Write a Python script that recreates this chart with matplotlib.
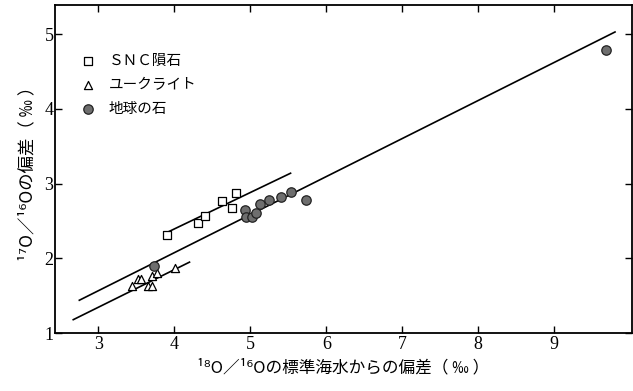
import matplotlib
matplotlib.use("Agg")
import matplotlib.pyplot as plt
import numpy as np

plt.rcParams['font.family'] = ['Noto Sans CJK JP', 'DejaVu Sans']

# SNC meteorites
snc_x = [3.91, 4.31, 4.41, 4.63, 4.76, 4.81]
snc_y = [2.31, 2.48, 2.57, 2.77, 2.68, 2.87]
# Eucrites
euc_x = [3.44, 3.52, 3.56, 3.65, 3.70, 3.71, 3.77, 4.01]
euc_y = [1.63, 1.72, 1.72, 1.63, 1.63, 1.76, 1.80, 1.87]
# Terrestrial rocks
earth_x = [3.73, 4.93, 4.95, 5.02, 5.07, 5.13, 5.25, 5.41, 5.54, 5.73, 9.68]
earth_y = [1.90, 2.65, 2.55, 2.56, 2.61, 2.73, 2.78, 2.82, 2.89, 2.78, 4.79]

# Fractionation lines (end points)
earth_line_x = [2.75, 9.80]
earth_line_y = [1.44, 5.03]
snc_line_x = [3.93, 5.53]
snc_line_y = [2.36, 3.14]
euc_line_x = [2.67, 4.20]
euc_line_y = [1.18, 1.95]

xticks = [3, 4, 5, 6, 7, 8, 9]
yticks = [1, 2, 3, 4, 5]

fig = plt.figure(figsize=(6.33, 3.91), dpi=100)
ax = fig.add_axes([0.0869, 0.148, 0.9111, 0.839])

ax.plot(earth_line_x, earth_line_y, color='black', lw=1.2)
ax.plot(snc_line_x, snc_line_y, color='black', lw=1.2)
ax.plot(euc_line_x, euc_line_y, color='black', lw=1.2)

ax.scatter(snc_x, snc_y, marker='s', s=32, facecolors='white', edgecolors='black',
           linewidths=0.9, zorder=3, label='ＳＮＣ隕石')
ax.scatter(euc_x, euc_y, marker='^', s=34, facecolors='white', edgecolors='black',
           linewidths=0.9, zorder=3, label='ユークライト')
ax.scatter(earth_x, earth_y, marker='o', s=46, facecolors='#6e6e6e', edgecolors='#222222',
           linewidths=0.9, zorder=4, label='地球の石')

ax.set_xlim(2.43, 10.02)
ax.set_ylim(1.0, 5.39)
ax.set_xticks(xticks)
ax.set_yticks(yticks)
ax.set_xticklabels([str(t) for t in xticks], family='Liberation Serif', fontsize=13)
ax.set_yticklabels([str(t) for t in yticks], family='Liberation Serif', fontsize=13)
ax.tick_params(direction='in', length=5, width=1.0, top=True, right=True,
               labeltop=False, labelright=False, pad=2)
ax.tick_params(axis='y', pad=1)
for s in ax.spines.values():
    s.set_linewidth(1.3)

ax.set_xlabel('¹⁸O／¹⁶Oの標準海水からの偏差（ ‰ ）', fontsize=12, labelpad=5)
ax.set_ylabel('¹⁷O／¹⁶Oの偏差（ ‰ ）', fontsize=12.5, labelpad=6)

leg = ax.legend(loc='upper left', bbox_to_anchor=(0.035, 0.87), frameon=False,
                fontsize=10.5, handletextpad=0.9, labelspacing=0.7,
                borderaxespad=0.0, handlelength=1.0)

fig.savefig('out.png', dpi=100)
